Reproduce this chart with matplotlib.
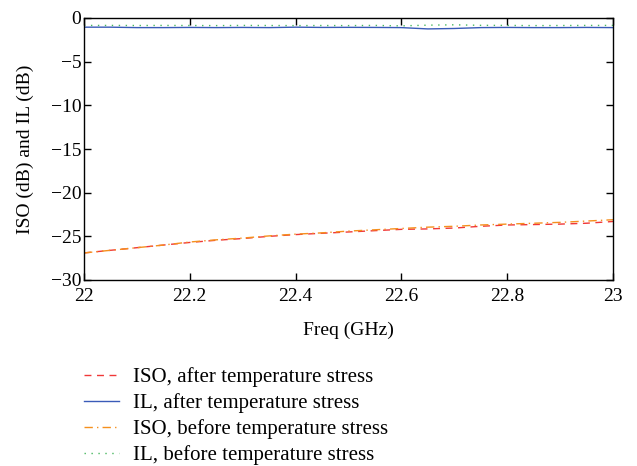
import matplotlib
matplotlib.use("Agg")
import matplotlib.pyplot as plt
import numpy as np

plt.rcParams['font.family'] = ['Liberation Serif', 'DejaVu Serif']
plt.rcParams['axes.unicode_minus'] = True

# frequency points (GHz)
freq = [22.0, 22.05, 22.1, 22.15, 22.2, 22.25, 22.3, 22.35, 22.4, 22.45, 22.5,
        22.55, 22.6, 22.65, 22.7, 22.75, 22.8, 22.85, 22.9, 22.95, 23.0]

iso_after = [-26.9, -26.6, -26.3, -26.0, -25.7, -25.45, -25.25, -25.0, -24.8, -24.65, -24.5,
             -24.35, -24.2, -24.15, -24.05, -23.85, -23.7, -23.65, -23.6, -23.5, -23.3]
il_after = [-1.05, -1.05, -1.1, -1.1, -1.08, -1.1, -1.08, -1.1, -1.05, -1.08, -1.07,
            -1.08, -1.1, -1.25, -1.2, -1.1, -1.08, -1.1, -1.1, -1.08, -1.1]
iso_before = [-26.9, -26.6, -26.3, -26.0, -25.65, -25.4, -25.2, -24.95, -24.75, -24.6, -24.4,
              -24.25, -24.1, -23.95, -23.85, -23.7, -23.6, -23.5, -23.4, -23.25, -23.1]
il_before = [-0.85, -0.85, -0.86, -0.85, -0.86, -0.87, -0.85, -0.86, -0.87, -0.86, -0.87,
             -0.85, -0.9, -0.82, -0.78, -0.84, -0.85, -0.87, -0.86, -0.85, -0.85]

fs = 14

fig = plt.figure(figsize=(6.37, 4.66), dpi=100)
ax = fig.add_axes([84 / 637, 1 - 280 / 466, 529 / 637, 262 / 466])

ax.plot(freq, iso_after, color='#f03838', ls=(0, (5, 4)), lw=1.0,
        label='ISO, after temperature stress')
ax.plot(freq, il_after, color='#3a5bb8', ls='-', lw=1.0,
        label='IL, after temperature stress')
ax.plot(freq, iso_before, color='#f5901e', ls=(0, (6, 3, 1, 3)), lw=1.0,
        label='ISO, before temperature stress')
ax.plot(freq, il_before, color='#48b860', ls=(0, (1, 4)), lw=1.0,
        label='IL, before temperature stress')

ax.set_xlim(22, 23)
ax.set_ylim(-30, 0)
ax.set_xticks([22, 22.2, 22.4, 22.6, 22.8, 23])
ax.set_xticklabels(['22', '22.2', '22.4', '22.6', '22.8', '23'])
ax.set_yticks(np.arange(-30, 1, 5))
ax.tick_params(direction='in', top=True, right=True, length=5, width=1,
               labelsize=fs)
ax.tick_params(axis='x', pad=6)
ax.tick_params(axis='y', pad=2)
for s in ax.spines.values():
    s.set_linewidth(1.0)

ax.set_xlabel('Freq (GHz)', fontsize=fs, labelpad=12)
ax.set_ylabel('ISO (dB) and IL (dB)', fontsize=fs, labelpad=12)

ax.legend(loc='upper left', bbox_to_anchor=(0.0, -0.333), frameon=False,
          fontsize=15, handlelength=1.7, handletextpad=0.65, labelspacing=0.29,
          borderaxespad=0, borderpad=0)

fig.savefig('out.png', dpi=100)
